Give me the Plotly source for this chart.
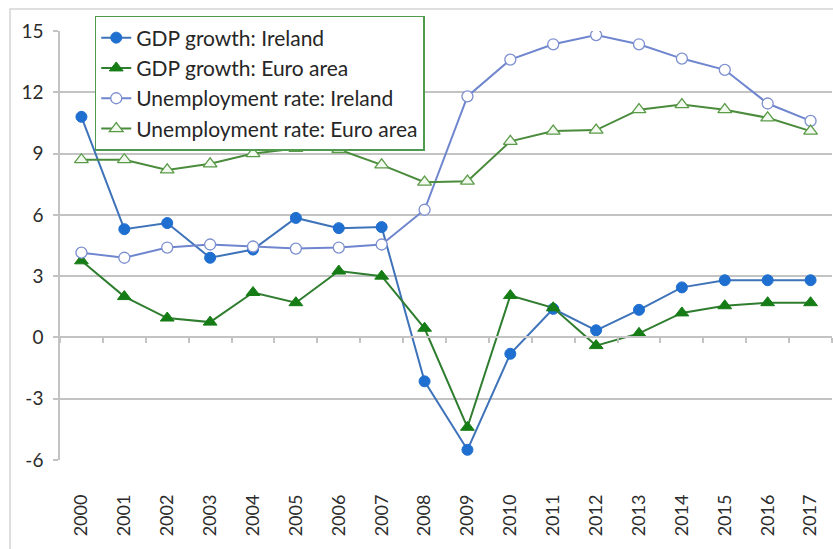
import plotly.graph_objects as go

years = [str(y) for y in range(2000, 2018)]

gdp_ireland = [10.8, 5.3, 5.6, 3.9, 4.3, 5.85, 5.35, 5.4, -2.15, -5.5,
               -0.8, 1.4, 0.35, 1.35, 2.45, 2.8, 2.8, 2.8]
gdp_euro = [3.75, 2.0, 0.95, 0.75, 2.2, 1.7, 3.25, 3.0, 0.45, -4.4,
            2.05, 1.45, -0.4, 0.2, 1.2, 1.55, 1.7, 1.7]
unemp_ireland = [4.15, 3.9, 4.4, 4.55, 4.45, 4.35, 4.4, 4.55, 6.25, 11.8,
                 13.6, 14.35, 14.8, 14.35, 13.65, 13.1, 11.45, 10.6]
unemp_euro = [8.7, 8.7, 8.2, 8.5, 9.0, 9.25, 9.2, 8.45, 7.6, 7.65,
              9.6, 10.1, 10.15, 11.15, 11.4, 11.15, 10.75, 10.1]

y_ticks = [-6, -3, 0, 3, 6, 9, 12, 15]
y_tick_text = [str(v) for v in y_ticks]

FONT = "Lato"
TEXT = "#2b2b2b"
GRID = "#c3c3c3"

fig = go.Figure()

fig.add_trace(go.Scatter(
    x=years, y=gdp_ireland, name="GDP growth: Ireland", mode="lines+markers",
    line=dict(color="#3f73b9", width=2),
    marker=dict(symbol="circle", size=11, color="#1f6fd0",
                line=dict(color="#1f6fd0", width=1)),
    legendgroup="a"))
fig.add_trace(go.Scatter(
    x=years, y=gdp_euro, name="GDP growth: Euro area", mode="lines+markers",
    line=dict(color="#2f7d2f", width=2),
    marker=dict(symbol="triangle-up", size=12, color="#167d16",
                line=dict(color="#167d16", width=1)),
    legendgroup="b"))
fig.add_trace(go.Scatter(
    x=years, y=unemp_ireland, name="Unemployment rate: Ireland", mode="lines+markers",
    line=dict(color="#6f86cf", width=2),
    marker=dict(symbol="circle", size=11, color="white",
                line=dict(color="#7d8fcf", width=1.3)),
    legendgroup="c"))
fig.add_trace(go.Scatter(
    x=years, y=unemp_euro, name="Unemployment rate: Euro area", mode="lines+markers",
    line=dict(color="#4a8c3c", width=2),
    marker=dict(symbol="triangle-up", size=12, color="#f2f9ee",
                line=dict(color="#5a9a48", width=1.3)),
    legendgroup="d"))

# helper trace so the zero-line category axis (with boundary ticks) renders
fig.add_trace(go.Scatter(
    x=years, y=[None] * len(years), xaxis="x2", mode="markers",
    showlegend=False, hoverinfo="skip"))

fig.update_layout(
    width=833, height=549,
    margin=dict(l=60, r=1, t=31, b=89),
    paper_bgcolor="white", plot_bgcolor="white",
    font=dict(family=FONT, color=TEXT, size=18),
    showlegend=True,
    legend=dict(
        x=0.045, y=1.035, xanchor="left", yanchor="top",
        bgcolor="white", bordercolor="#4f9a4f", borderwidth=1.5,
        font=dict(family=FONT, size=21, color="#262626"),
        tracegroupgap=0,
    ),
    xaxis=dict(
        type="category", categoryorder="array", categoryarray=years,
        range=[-0.5, len(years) - 0.5],
        showgrid=False, showline=False, zeroline=False, ticks="",
        tickangle=-90, tickfont=dict(size=18, color=TEXT),
        ticklabelstandoff=30,
    ),
    xaxis2=dict(
        type="category", categoryorder="array", categoryarray=years,
        range=[-0.5, len(years) - 0.5],
        overlaying="x", anchor="free", position=6 / 21,
        showgrid=False, showline=True, linecolor=GRID, linewidth=1.5,
        ticks="outside", ticklen=5, tickcolor=GRID, tickwidth=1.5,
        tickson="boundaries", showticklabels=False,
    ),
    yaxis=dict(
        range=[-6, 15], tickvals=y_ticks, ticktext=y_tick_text,
        showgrid=True, gridcolor=GRID, gridwidth=1.5,
        showline=True, linecolor=GRID, linewidth=1.5,
        ticks="outside", ticklen=5, tickcolor=GRID, tickwidth=1.5,
        zeroline=False, tickfont=dict(size=19, color=TEXT),
        ticklabelstandoff=6,
    ),
    shapes=[dict(
        type="rect", xref="paper", yref="paper",
        x0=-50 / 772, x1=1.05, y0=-0.5, y1=451 / 429,
        line=dict(color="#d4d4d4", width=1.5), layer="below",
    )],
)

fig.write_html("out.html")
